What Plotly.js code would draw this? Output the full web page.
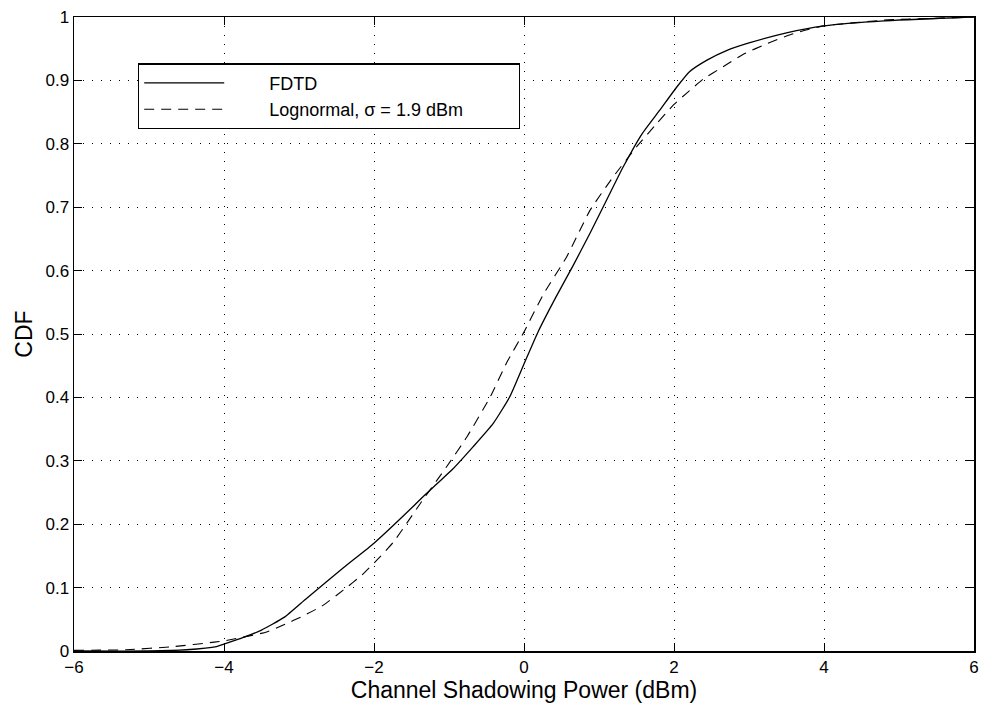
<!DOCTYPE html>
<html>
<head>
<meta charset="utf-8">
<script src="https://cdn.plot.ly/plotly-3.0.1.min.js"></script>
<style>html,body{margin:0;padding:0;background:#fff;}#chart{width:982px;height:705px;}</style>
</head>
<body>
<div id="chart"></div>
<script>
const fdtdX = [-6, -5, -4.5, -4.1, -4.0, -3.75, -3.5, -3.2, -2.9, -2.4, -2.0, -1.6, -1.34, -1.15, -0.95, -0.68, -0.41, -0.19, -0.01, 0.19, 0.42, 0.66, 0.88, 1.10, 1.32, 1.57, 1.81, 2.04, 2.21, 2.44, 2.70, 3.0, 3.5, 4.0, 4.8, 6.0];
const fdtdY = [0, 0, 0.002, 0.007, 0.011, 0.021, 0.033, 0.053, 0.083, 0.132, 0.170, 0.214, 0.244, 0.265, 0.287, 0.322, 0.359, 0.401, 0.450, 0.504, 0.557, 0.609, 0.659, 0.711, 0.763, 0.815, 0.853, 0.890, 0.914, 0.932, 0.947, 0.959, 0.975, 0.986, 0.994, 1.0];
// Lognormal fit CDF
const logX = [-6, -5.3, -4.67, -4.13, -4.0, -3.43, -3.21, -2.95, -2.68, -2.41, -2.16, -1.94, -1.74, -1.56, -1.41, -1.03, -0.76, -0.45, -0.23, -0.01, 0.26, 0.57, 0.88, 1.19, 1.50, 1.77, 1.99, 2.17, 2.39, 2.66, 2.92, 3.24, 3.55, 3.81, 4.0, 4.8, 6.0];
const logY = [0.001, 0.002, 0.007, 0.014, 0.016, 0.030, 0.041, 0.055, 0.072, 0.096, 0.120, 0.146, 0.172, 0.202, 0.228, 0.291, 0.338, 0.401, 0.455, 0.501, 0.563, 0.622, 0.695, 0.748, 0.795, 0.832, 0.861, 0.880, 0.902, 0.922, 0.941, 0.958, 0.972, 0.981, 0.986, 0.995, 1.0];
const xTicks = [-6, -4, -2, 0, 2, 4, 6];
const yTicks = [0, 0.1, 0.2, 0.3, 0.4, 0.5, 0.6, 0.7, 0.8, 0.9, 1];
const seriesNames = ['FDTD', 'Lognormal, σ = 1.9 dBm'];

const font = 'Liberation Sans, Arial, Helvetica, sans-serif';
const lead = '\u00a0'.repeat(8);
const trail = '\u00a0'.repeat(10);
const traces = [
  {x: fdtdX, y: fdtdY, type: 'scatter', mode: 'lines', name: lead + seriesNames[0],
   line: {color: '#000', width: 1.3, shape: 'spline', smoothing: 0.5}},
  {x: logX, y: logY, type: 'scatter', mode: 'lines', name: lead + seriesNames[1] + trail,
   line: {color: '#000', width: 1.1, dash: '10px,7px', shape: 'spline', smoothing: 0.5}}
];
const axisCommon = {
  showline: true, linecolor: '#000', linewidth: 1.5, mirror: 'ticks',
  ticks: 'inside', ticklen: 8, tickcolor: '#000', tickwidth: 1,
  showgrid: true, gridcolor: '#000', gridwidth: 1, griddash: '1px,8px',
  zeroline: false, tickfont: {family: font, size: 17, color: '#000'}
};
const layout = {
  width: 982, height: 705,
  margin: {l: 74, r: 8, t: 17, b: 54},
  paper_bgcolor: '#fff', plot_bgcolor: '#fff',
  font: {family: font, color: '#000'},
  xaxis: Object.assign({}, axisCommon, {
    range: [-6, 6], tickmode: 'array', tickvals: xTicks, ticktext: xTicks.map(v => v < 0 ? '\u2212' + Math.abs(v) : String(v)),
    title: {text: 'Channel Shadowing Power (dBm)', font: {family: font, size: 23, color: '#000'}, standoff: 2},
    automargin: false
  }),
  yaxis: Object.assign({}, axisCommon, {
    range: [0, 1], tickmode: 'array', tickvals: yTicks, ticktext: yTicks.map(v => String(v)),
    title: {text: 'CDF', font: {family: font, size: 23, color: '#000'}, standoff: 6},
    automargin: false
  }),
  showlegend: true,
  legend: {
    x: 0.071, y: 0.927, xanchor: 'left', yanchor: 'top',
    bgcolor: '#fff', bordercolor: '#000', borderwidth: 1.3,
    font: {family: font, size: 18, color: '#000'},
    itemwidth: 80, tracegroupgap: 0
  }
};
Plotly.newPlot('chart', traces, layout, {displayModeBar: false, staticPlot: true});
</script>
</body>
</html>
